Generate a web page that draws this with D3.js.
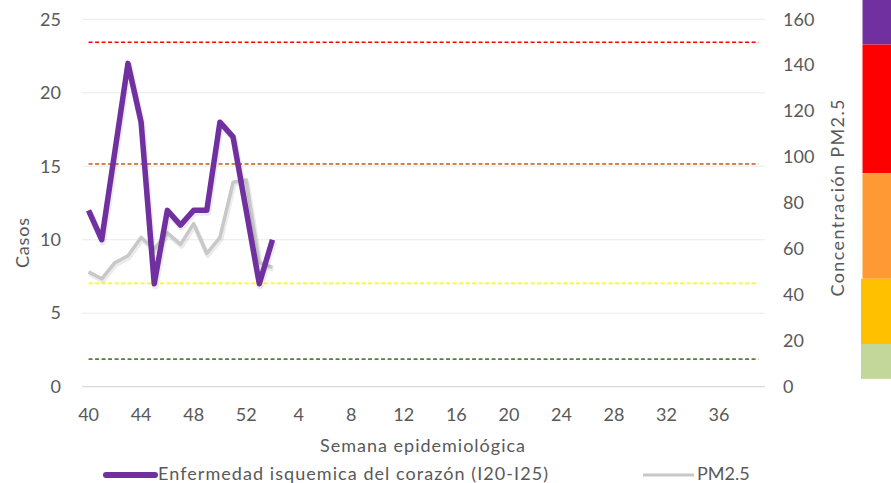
<!DOCTYPE html>
<html><head><meta charset="utf-8">
<script src="https://cdn.jsdelivr.net/npm/d3@7"></script>
<style>
html,body{margin:0;padding:0;background:#fff;}
svg{display:block;font-family:Lato,"Open Sans",sans-serif;}
</style></head>
<body><svg id="c" width="891" height="483"></svg>
<script>
// ---- data ----
const weeks = [40,41,42,43,44,45,46,47,48,49,50,51,52,
  1,2,3,4,5,6,7,8,9,10,11,12,13,14,15,16,17,18,19,20,21,22,23,24,25,26,27,28,29,30,31,32,33,34,35,36,37,38,39];
const casos = [12,10,16,22,18,7,12,11,12,12,18,17,12,7,10];
const pm25 = [50,47,54,57,65,60,67,62,71,58,65,89,90,54,52];
const leftTicks = [0,5,10,15,20,25];
const rightTicks = [0,20,40,60,80,100,120,140,160];
const thresholds = [150,97,45,12];
const thresholdColors = ["#FF0000","#C55A11","#FFFF00","#548235"];
const bandLimits = [168.4,149,93,47,18.6,3.4];
const bandColors = ["#7030A0","#FF0000","#FF9933","#FFC000","#C4D79B"];
const seriesNames = ["Enfermedad isquemica del corazón (I20-I25)","PM2.5"];

const svg = d3.select("#c");
const x = d3.scaleBand().domain(weeks.map(String)).range([82,765]).padding(0);
const cx = w => x(String(w)) + x.bandwidth()/2;
const yL = d3.scaleLinear().domain([0,25]).range([386.7,19.3]);
const yR = d3.scaleLinear().domain([0,160]).range([386.7,19.3]);
const textCol = "#595959";
const fs = "18px";

// colour band on the right
svg.append("g").selectAll("rect").data(bandColors).join("rect")
  .attr("x",(d,i)=> i>=3 ? 861 : 862.5)
  .attr("width",40)
  .attr("y",(d,i)=>yR(bandLimits[i]))
  .attr("height",(d,i)=>yR(bandLimits[i+1])-yR(bandLimits[i]))
  .attr("fill",d=>d);

// gridlines
svg.append("g").selectAll("line").data(leftTicks).join("line")
  .attr("x1",82).attr("x2",765)
  .attr("y1",d=>yL(d)).attr("y2",d=>yL(d))
  .attr("stroke",d=>d===0?"#D0D0D0":"#EBEBEB").attr("stroke-width",1);

// left axis
const gl = svg.append("g").attr("transform","translate(61,0)")
  .call(d3.axisLeft(yL).tickValues(leftTicks).tickSize(0).tickPadding(0));
gl.select(".domain").remove();
gl.selectAll("text").attr("fill",textCol).style("font-size",fs).style("font-family","Lato");

// right axis
const gr = svg.append("g").attr("transform","translate(783,0)")
  .call(d3.axisRight(yR).tickValues(rightTicks).tickSize(0).tickPadding(0));
gr.select(".domain").remove();
gr.selectAll("text").attr("fill",textCol).style("font-size",fs).style("font-family","Lato");

// bottom axis
const gb = svg.append("g").attr("transform","translate(0,400)")
  .call(d3.axisBottom(x).tickValues(weeks.filter((w,i)=>i%4===0).map(String)).tickSize(0).tickPadding(8));
gb.select(".domain").remove();
gb.selectAll("text").attr("fill",textCol).style("font-size",fs).style("font-family","Lato");

// axis titles
svg.append("text").attr("transform","translate(29,243) rotate(-90)")
  .attr("text-anchor","middle").attr("fill",textCol).style("font-size",fs)
  .attr("textLength",50).attr("lengthAdjust","spacing").text("Casos");
svg.append("text").attr("transform","translate(844,198) rotate(-90)")
  .attr("text-anchor","middle").attr("fill",textCol).style("font-size",fs)
  .attr("textLength",197).attr("lengthAdjust","spacing").text("Concentración PM2.5");
svg.append("text").attr("x",422.5).attr("y",452)
  .attr("text-anchor","middle").attr("fill",textCol).style("font-size",fs)
  .attr("textLength",205).attr("lengthAdjust","spacing").text("Semana epidemiológica");

// threshold dashed lines
svg.append("g").selectAll("line").data(thresholds).join("line")
  .attr("x1",cx(weeks[0])).attr("x2",cx(weeks[weeks.length-1]))
  .attr("y1",d=>yR(d)).attr("y2",d=>yR(d))
  .attr("stroke",(d,i)=>thresholdColors[i]).attr("stroke-width",1.6)
  .attr("stroke-dasharray","4,2.5");

// PM2.5 line (with soft shadow)
const lineR = d3.line().x((d,i)=>cx(weeks[i])).y(d=>yR(d));
svg.append("path").datum(pm25).attr("d",lineR).attr("fill","none")
  .attr("stroke","#000").attr("stroke-opacity",0.08).attr("stroke-width",5)
  .attr("transform","translate(1,2)").attr("stroke-linejoin","round");
svg.append("path").datum(pm25).attr("d",lineR).attr("fill","none")
  .attr("stroke","#C8C8C8").attr("stroke-width",3.5).attr("stroke-linejoin","round");

// Casos line
const lineL = d3.line().x((d,i)=>cx(weeks[i])).y(d=>yL(d));
svg.append("path").datum(casos).attr("d",lineL).attr("fill","none")
  .attr("stroke","#000").attr("stroke-opacity",0.08).attr("stroke-width",7)
  .attr("transform","translate(1,2)").attr("stroke-linejoin","round");
svg.append("path").datum(casos).attr("d",lineL).attr("fill","none")
  .attr("stroke","#7030A0").attr("stroke-width",5.5).attr("stroke-linejoin","round");

// legend
const lg = svg.append("g");
lg.append("line").attr("x1",106).attr("x2",155).attr("y1",475).attr("y2",475)
  .attr("stroke","#7030A0").attr("stroke-width",6).attr("stroke-linecap","round");
lg.append("text").attr("x",158).attr("y",480).attr("fill",textCol).style("font-size",fs)
  .attr("textLength",390).attr("lengthAdjust","spacing").text(seriesNames[0]);
lg.append("line").attr("x1",643).attr("x2",694).attr("y1",475).attr("y2",475)
  .attr("stroke","#C8C8C8").attr("stroke-width",3);
lg.append("text").attr("x",697).attr("y",480).attr("fill",textCol).style("font-size",fs)
  .text(seriesNames[1]);
</script></body></html>
